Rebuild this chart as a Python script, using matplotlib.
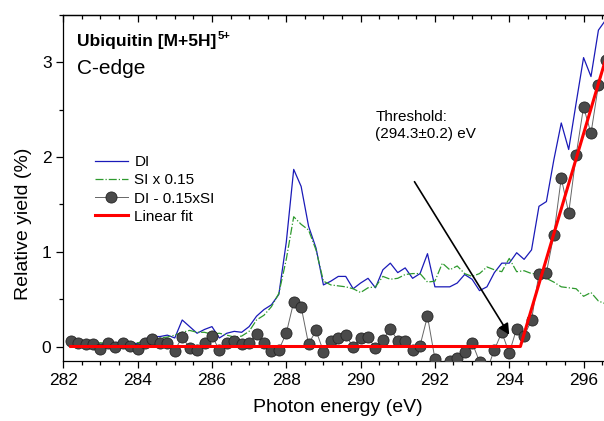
import matplotlib.pyplot as plt
from matplotlib.ticker import MultipleLocator

plt.rcParams["font.family"] = ["Liberation Sans", "DejaVu Sans"]

# photon energy grid (eV)
energy = [
    282.2, 282.4, 282.6, 282.8, 283.0, 283.2, 283.4, 283.6, 283.8, 284.0,
    284.2, 284.4, 284.6, 284.8, 285.0, 285.2, 285.4, 285.6, 285.8, 286.0,
    286.2, 286.4, 286.6, 286.8, 287.0, 287.2, 287.4, 287.6, 287.8, 288.0,
    288.2, 288.4, 288.6, 288.8, 289.0, 289.2, 289.4, 289.6, 289.8, 290.0,
    290.2, 290.4, 290.6, 290.8, 291.0, 291.2, 291.4, 291.6, 291.8, 292.0,
    292.2, 292.4, 292.6, 292.8, 293.0, 293.2, 293.4, 293.6, 293.8, 294.0,
    294.2, 294.4, 294.6, 294.8, 295.0, 295.2, 295.4, 295.6, 295.8, 296.0,
    296.2, 296.4, 296.6,
]

di_yield = [
    0.07, 0.05, 0.05, 0.05, 0.02, 0.05, 0.04, 0.05, 0.04, 0.03,
    0.08, 0.105, 0.105, 0.12, 0.09, 0.28, 0.21, 0.14, 0.18, 0.21,
    0.09, 0.14, 0.16, 0.15, 0.21, 0.32, 0.39, 0.44, 0.55, 1.10,
    1.87, 1.69, 1.27, 1.04, 0.65, 0.69, 0.74, 0.74, 0.61, 0.67,
    0.72, 0.62, 0.81, 0.88, 0.78, 0.83, 0.72, 0.77, 0.98, 0.63,
    0.63, 0.63, 0.67, 0.76, 0.71, 0.59, 0.63, 0.78, 0.88, 0.88,
    0.99, 0.92, 1.02, 1.48, 1.53, 1.97, 2.36, 2.08, 2.57, 3.05,
    2.85, 3.34, 3.45,
]

si_scaled = [
    0.03, 0.03, 0.03, 0.03, 0.04, 0.03, 0.04, 0.03, 0.04, 0.04,
    0.05, 0.07, 0.09, 0.10, 0.12, 0.15, 0.17, 0.15, 0.15, 0.13,
    0.14, 0.12, 0.10, 0.11, 0.16, 0.28, 0.33, 0.42, 0.56, 0.92,
    1.37, 1.29, 1.23, 1.02, 0.69, 0.65, 0.64, 0.63, 0.61, 0.57,
    0.62, 0.63, 0.74, 0.71, 0.72, 0.76, 0.77, 0.77, 0.68, 0.69,
    0.88, 0.81, 0.85, 0.77, 0.74, 0.77, 0.84, 0.81, 0.79, 0.93,
    0.79, 0.80, 0.77, 0.77, 0.72, 0.68, 0.63, 0.62, 0.61, 0.53,
    0.57, 0.48, 0.45,
]

difference = [
    0.06, 0.04, 0.025, 0.025, -0.025, 0.04, -0.01, 0.035, 0.01, -0.025,
    0.035, 0.08, 0.04, 0.035, -0.045, 0.105, -0.02, -0.035, 0.04, 0.11,
    -0.035, 0.04, 0.055, 0.028, 0.042, 0.13, 0.042, -0.046, -0.035, 0.14,
    0.47, 0.42, 0.025, 0.17, -0.053, 0.053, 0.088, 0.12, -0.007, 0.095,
    0.10, -0.018, 0.07, 0.19, 0.06, 0.055, -0.04, 0.01, 0.32, -0.13,
    -0.22, -0.148, -0.123, -0.06, 0.042, -0.16, -0.25, -0.035, 0.15, -0.07,
    0.19, 0.11, 0.28, 0.77, 0.78, 1.18, 1.78, 1.41, 2.02, 2.53,
    2.25, 2.76, 3.03,
]

# piecewise linear fit: flat, then rising from threshold
fit_energy = [282.2, 294.3, 296.6]
fit_yield = [0.0, 0.0, 3.04]

fig = plt.figure(figsize=(6.04, 4.21), dpi=100)
ax = fig.add_axes([0.1048, 0.1432, 0.8952, 0.8212])

ax.plot(energy, di_yield, color="#1a1ab8", linewidth=0.9, label="DI", zorder=2)
ax.plot(energy, si_scaled, color="#2e9a2e", linewidth=0.9,
        linestyle="-.", label="SI x 0.15", zorder=2)
ax.plot(energy, difference, color="#666666", linewidth=0.7,
        marker="o", markersize=8, markerfacecolor="#4a4a4a",
        markeredgecolor="#262626", markeredgewidth=0.6,
        label="DI - 0.15xSI", zorder=3)
ax.plot(fit_energy, fit_yield, color="#ff0000", linewidth=2.2,
        label="Linear fit", zorder=4)

ax.set_xlim(282, 296.55)
ax.set_ylim(-0.15, 3.5)

ax.xaxis.set_major_locator(MultipleLocator(2))
ax.xaxis.set_minor_locator(MultipleLocator(0.5))
ax.yaxis.set_major_locator(MultipleLocator(1))
ax.yaxis.set_minor_locator(MultipleLocator(0.5))

ax.tick_params(axis="both", which="major", labelsize=12.5, length=5,
               width=0.9, direction="out")
ax.tick_params(axis="both", which="minor", length=3, width=0.9,
               direction="out")
ax.tick_params(axis="x", which="major", pad=4)
ax.tick_params(axis="y", which="major", pad=3.5)
ax.spines["right"].set_visible(False)
for side in ["left", "bottom", "top"]:
    ax.spines[side].set_linewidth(0.9)

# inward ticks on the top spine
top = ax.secondary_xaxis("top")
top.xaxis.set_major_locator(MultipleLocator(2))
top.xaxis.set_minor_locator(MultipleLocator(0.5))
top.tick_params(which="major", direction="in", length=5, width=0.9,
                labeltop=False)
top.tick_params(which="minor", direction="in", length=3, width=0.9)
top.spines["top"].set_linewidth(0.9)

ax.set_xlabel("Photon energy (eV)", fontsize=14)
ax.set_ylabel("Relative yield (%)", fontsize=14)
ax.xaxis.set_label_coords(0.508, -0.112)
ax.yaxis.set_label_coords(-0.058, 0.395)

title = ax.text(0.025, 0.923, "Ubiquitin [M+5H]", transform=ax.transAxes,
                fontsize=12.5, fontweight="bold", va="center", ha="left")
ax.annotate("5+", xy=(1.0, 1.0), xycoords=title, xytext=(1, 2),
            textcoords="offset points", fontsize=8, fontweight="bold",
            va="top", ha="left")
ax.text(0.025, 0.845, "C-edge", transform=ax.transAxes, fontsize=15,
        va="center", ha="left")

ax.text(290.4, 2.33, "Threshold:\n(294.3\u00b10.2) eV", fontsize=11,
        ha="left", va="center", linespacing=1.25)
ax.annotate("", xy=(294.0, 0.125), xytext=(291.45, 1.74),
            arrowprops=dict(arrowstyle="-|>", color="black", lw=1.2,
                            mutation_scale=16, shrinkA=0, shrinkB=0))

ax.legend(loc="upper left", bbox_to_anchor=(0.058, 0.595), frameon=False,
          fontsize=11, handlelength=2.2, handletextpad=0.4,
          labelspacing=0.28, borderpad=0, borderaxespad=0)

fig.savefig("out.png", dpi=100)
